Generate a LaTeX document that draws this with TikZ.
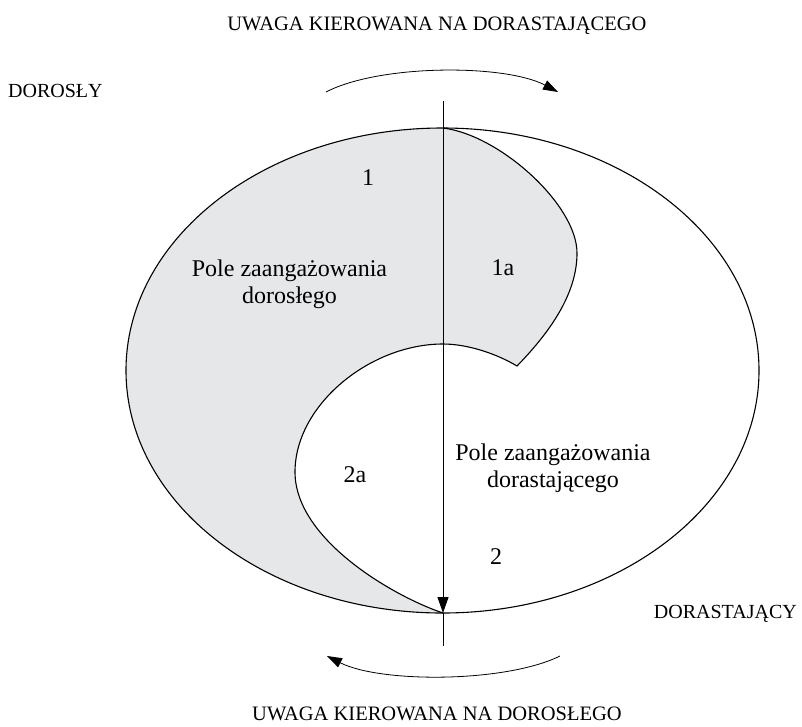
\documentclass[tikz,border=0pt]{standalone}
\usepackage{fontspec}
\setmainfont{Liberation Serif}
\usetikzlibrary{arrows.meta}
\definecolor{fieldgray}{RGB}{230,231,233}
\begin{document}
\begin{tikzpicture}[x=1pt,y=-1pt,
  lbl/.style={inner sep=0pt, font=\fontsize{24}{27}\selectfont, align=center},
  caps/.style={inner sep=0pt, font=\fontsize{20}{24}\selectfont},
  headcaps/.style={inner sep=0pt, font=\fontsize{20.5}{24}\selectfont},
  outline/.style={line width=1.1pt},
  axisline/.style={line width=0.9pt},
  turn/.style={line width=0.8pt, -{Triangle[length=15pt,width=10pt]}}]
\useasboundingbox (0,0) rectangle (802,726);
% key points
\coordinate (T) at (443,128);
\coordinate (L) at (126,370.5);
\coordinate (B) at (443,613);
\coordinate (W) at (295,472);
\coordinate (N) at (443,344);
\coordinate (C) at (517,366);
\coordinate (R) at (577,253);
\coordinate (top) at (443,101);
\coordinate (bot) at (443,646);
\coordinate (a1s) at (326,92);
\coordinate (a1e) at (558,92);
\coordinate (a2s) at (560,656);
\coordinate (a2e) at (327,656);
% shaded field
\fill[fieldgray] (T) .. controls (268.2,128) and (126,236.6) .. (L)
  .. controls (126,504.4) and (268.2,613) .. (B)
  .. controls (395,597) and (295,540) .. (W)
  .. controls (295,405) and (370,344) .. (N)
  .. controls (468,344) and (497,354) .. (C)
  .. controls (555,327) and (577,290) .. (R)
  .. controls (577,205) and (500,135) .. (T) -- cycle;
\draw[outline] (B)
  .. controls (395,597) and (295,540) .. (W)
  .. controls (295,405) and (370,344) .. (N)
  .. controls (468,344) and (497,354) .. (C)
  .. controls (555,327) and (577,290) .. (R)
  .. controls (577,205) and (500,135) .. (T);
\draw[outline] (442.5,370.5) ellipse [x radius=316.5pt, y radius=242.5pt];
% axis
\draw[axisline] (B) -- (bot);
\draw[axisline, -{Triangle[length=16pt,width=11pt]}] (top) -- (B);
% turning arrows
\draw[turn] (a1s) .. controls (380,64) and (505,64) .. (a1e);
\draw[turn] (a2s) .. controls (505,683) and (380,683) .. (a2e);
% texts
\node[headcaps, anchor=base] (head1) at (437,30) {UWAGA KIEROWANA NA DORASTAJĄCEGO};
\node[headcaps, anchor=base] (head2) at (437,720) {UWAGA KIEROWANA NA DOROSŁEGO};
\node[caps, anchor=base west] (adult) at (8,97) {DOROSŁY};
\node[caps, anchor=base east] (teen) at (797,618.5) {DORASTAJĄCY};
\node[lbl, anchor=base] (f1) at (368,185) {1};
\node[lbl] (fieldA) at (289.5,284) {Pole zaangażowania\\dorosłego};
\node[lbl, anchor=base] (f1a) at (503,275) {1a};
\node[lbl, anchor=base] (f2a) at (355,482) {2a};
\node[lbl] (fieldB) at (553,468) {Pole zaangażowania\\dorastającego};
\node[lbl, anchor=base] (f2) at (496,564) {2};
\end{tikzpicture}
\end{document}
